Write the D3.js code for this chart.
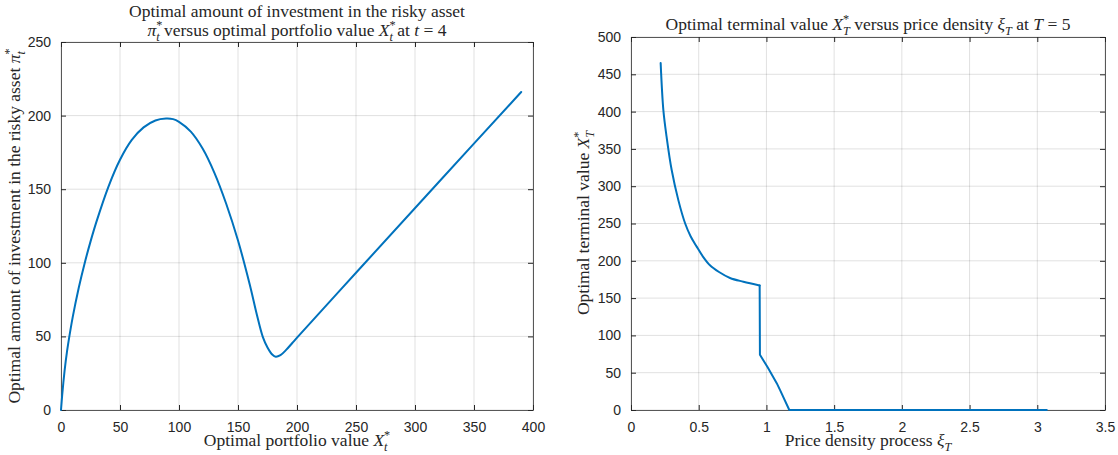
<!DOCTYPE html>
<html><head><meta charset="utf-8">
<script src="https://cdn.jsdelivr.net/npm/d3@7"></script>
<style>
body{margin:0;background:#fff;}
svg{display:block;}
.tick text{font-family:"Liberation Sans",Arial,sans-serif;font-size:14px;fill:#262626;}
.lbl{font-family:"Liberation Serif","Times New Roman",serif;fill:#262626;}
</style></head>
<body>
<svg id="c" width="1118" height="455"></svg>
<script>
// Left panel: optimal investment pi*_t vs portfolio value X*_t at t=4
const leftX = [0,1,2,3,4,5,6,10,15,20,25,30,40,50,60,70,80,89,95,100,110,120,130,140,150,160,166,171,175,179,182,186,191,196,201,256,320,390];
const leftY = [0,10,18.7,26.4,33.2,39.2,44.6,63.4,82.9,99.6,114.4,127.8,151.3,170,183.5,192,196.7,198,197.6,195.8,189.1,177.6,161.1,140.1,115.1,85.1,64.7,49.7,42.5,37.7,36.2,37.3,41,45.5,50,98.5,154.7,216];
const leftXTicks = [0,50,100,150,200,250,300,350,400];
const leftYTicks = [0,50,100,150,200,250];

// Right panel: optimal terminal value X*_T vs price density xi_T at T=5
const rightXi = [0.219,0.239,0.263,0.30,0.35,0.40,0.44,0.485,0.53,0.583,0.65,0.731,0.83,0.95,0.952,1.01,1.076,1.10,1.169,3.07];
const rightX  = [465,402,366,322,281,250,233,219,206,194,185,177,172,167,74,57,36,27,0,0];
const rightXTicks = [0,0.5,1,1.5,2,2.5,3,3.5];
const rightYTicks = [0,50,100,150,200,250,300,350,400,450,500];

const svg = d3.select("#c");
const lineColor = "#0072BD";
const axisColor = "#262626";

function panel(cfg){
  const g = svg.append("g");
  const x = d3.scaleLinear().domain(cfg.xd).range([cfg.x0, cfg.x1]);
  const y = d3.scaleLinear().domain(cfg.yd).range([cfg.y0, cfg.y1]);
  g.append("g").selectAll("line").data(cfg.xt).join("line")
    .attr("x1",d=>x(d)).attr("x2",d=>x(d)).attr("y1",cfg.y0).attr("y2",cfg.y1)
    .attr("stroke","#000").attr("stroke-opacity",0.12).attr("stroke-width",1);
  g.append("g").selectAll("line").data(cfg.yt).join("line")
    .attr("y1",d=>y(d)).attr("y2",d=>y(d)).attr("x1",cfg.x0).attr("x2",cfg.x1)
    .attr("stroke","#000").attr("stroke-opacity",0.12).attr("stroke-width",1);
  const fmt = d=>String(d);
  const ax = g.append("g").attr("transform",`translate(0,${cfg.y0})`)
    .call(d3.axisBottom(x).tickValues(cfg.xt).tickFormat(fmt).tickSizeInner(-5).tickSizeOuter(0).tickPadding(12));
  const ay = g.append("g").attr("transform",`translate(${cfg.x0},0)`)
    .call(d3.axisLeft(y).tickValues(cfg.yt).tickFormat(fmt).tickSizeInner(-5).tickSizeOuter(0).tickPadding(10));
  const at = g.append("g").attr("transform",`translate(0,${cfg.y1})`)
    .call(d3.axisTop(x).tickValues(cfg.xt).tickFormat("").tickSizeInner(-5).tickSizeOuter(0));
  const ar = g.append("g").attr("transform",`translate(${cfg.x1},0)`)
    .call(d3.axisRight(y).tickValues(cfg.yt).tickFormat("").tickSizeInner(-5).tickSizeOuter(0));
  [ax,ay,at,ar].forEach(a=>{
    a.selectAll("path").attr("stroke",axisColor).attr("stroke-width",1).attr("stroke-opacity",0.75);
    a.selectAll("line").attr("stroke",axisColor);
  });
  const data = cfg.xs.map((v,i)=>[v,cfg.ys[i]]);
  cfg.segments.forEach(seg=>{
    g.append("path").datum(data.slice(seg[0], seg[1]+1))
      .attr("d", d3.line().x(d=>x(d[0])).y(d=>y(d[1])).curve(seg[2]))
      .attr("fill","none").attr("stroke",lineColor).attr("stroke-width",2)
      .attr("stroke-linejoin","round").attr("stroke-linecap","round");
  });
}

panel({xd:[0,400],yd:[0,250],x0:61,x1:533,y0:410,y1:42,xt:leftXTicks,yt:leftYTicks,
  xs:leftX,ys:leftY,segments:[[0,leftX.length-1,d3.curveCatmullRom]]});
panel({xd:[0,3.5],yd:[0,500],x0:631,x1:1105,y0:410,y1:37,xt:rightXTicks,yt:rightYTicks,
  xs:rightXi,ys:rightX,segments:[[0,13,d3.curveCatmullRom],[13,rightXi.length-1,d3.curveLinear]]});

// rich text: parts [text, kind]; kinds: n, i, sup, sub, substack (sub stacked under previous sup)
function rich(parent, x, y, parts, size, opts={}){
  const t = parent.append("text").attr("class","lbl").attr("x",x).attr("y",y)
    .attr("font-size",size).attr("text-anchor","middle");
  if(opts.rotate) t.attr("transform",`rotate(-90,${x},${y})`);
  let cur = 0;
  parts.forEach(p=>{
    const k = p[1];
    let off = 0;
    if(k==="sup") off = -size*0.4;
    if(k==="sub"||k==="substack") off = size*0.28;
    const s = t.append("tspan").text(p[0]);
    if(off!==cur) s.attr("dy", off-cur);
    cur = off;
    if(k==="i"||k==="sub"||k==="substack") s.attr("font-style","italic");
    if(k==="sup"||k==="sub"||k==="substack") s.attr("font-size",size*0.7);
    if(k==="substack") s.attr("dx", -size*0.7*0.5);
  });
  return t;
}
const fs = 17.5;
// Left title
rich(svg, 297, 17, [["Optimal amount of investment in the risky asset","n"]], fs);
rich(svg, 297, 36, [["π","i"],["*","sup"],["t","substack"],[" versus optimal portfolio value ","n"],["X","i"],["*","sup"],["t","substack"],[" at ","n"],["t","i"],[" = 4","n"]], fs);
// Left x label
rich(svg, 297, 446, [["Optimal portfolio value ","n"],["X","i"],["*","sup"],["t","substack"]], fs);
// Left y label
rich(svg, 20, 226, [["Optimal amount of investment in the risky asset ","n"],["π","i"],["*","sup"],["t","substack"]], fs, {rotate:true});

// Right title
rich(svg, 868, 30, [["Optimal terminal value ","n"],["X","i"],["*","sup"],["T","substack"],[" versus price density ","n"],["ξ","i"],["T","sub"],[" at ","n"],["T","i"],[" = 5","n"]], fs);
// Right x label
rich(svg, 868, 446, [["Price density process ","n"],["ξ","i"],["T","sub"]], fs);
// Right y label
rich(svg, 589, 223, [["Optimal terminal value ","n"],["X","i"],["*","sup"],["T","substack"]], fs, {rotate:true});
</script>
</body></html>
